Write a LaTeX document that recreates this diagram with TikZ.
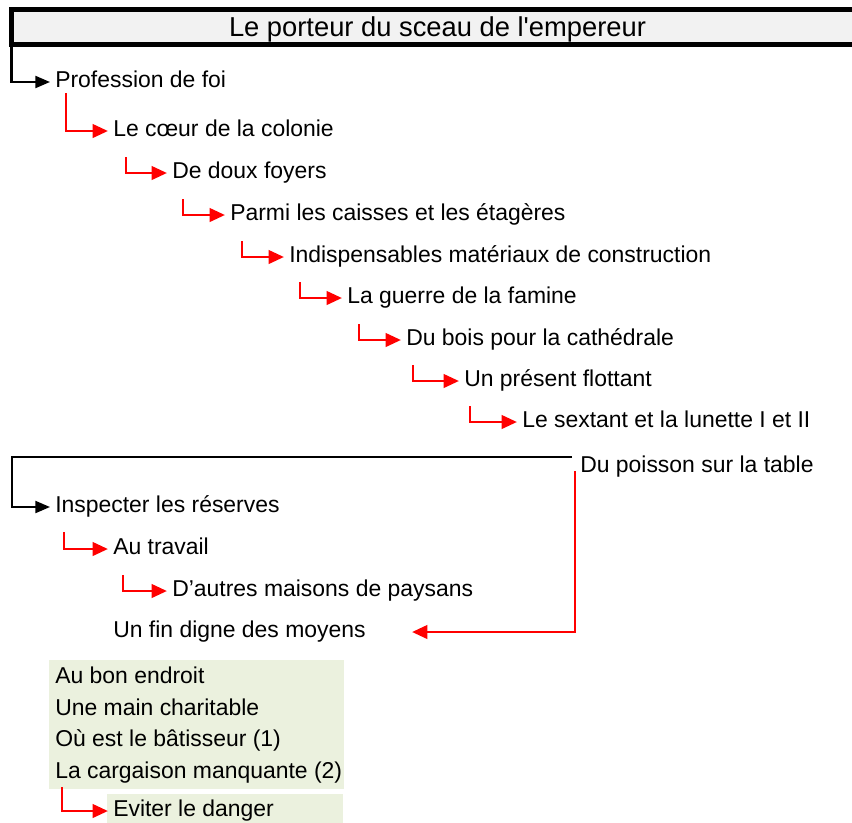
\documentclass[tikz,border=0pt]{standalone}
\usepackage{fontspec}
\setmainfont{Liberation Sans}[Ligatures=TeXOff]
\usetikzlibrary{arrows.meta}
\definecolor{titlegray}{HTML}{F2F2F2}
\definecolor{cellgreen}{HTML}{EBF1DE}
\definecolor{linkred}{HTML}{FF0000}
\begin{document}
\begin{tikzpicture}[x=0.75pt,y=-0.75pt,
  item/.style={anchor=base west, yshift=-3.75pt, inner xsep=3.75pt, inner ysep=0pt, font=\fontsize{17.2}{20}\selectfont},
  redlink/.style={draw=linkred, line width=2.2pt, -{Triangle[length=11.5pt,width=10pt]}},
  blacklink/.style={draw=black, line width=1.6pt, -{Triangle[length=11pt,width=9pt]}},
  titlebox/.style={draw, line width=3.75pt, fill=titlegray, outer sep=0pt, inner sep=0pt,
    minimum width=700pt, minimum height=26.25pt, anchor=north west,
    text height=14.6pt, text depth=0pt,
    font=\fontsize{20.5}{24}\selectfont}
]
\useasboundingbox (0,0) rectangle (852,822);
\clip (0,0) rectangle (852,822);

% green cells
\fill[cellgreen] (49,660) rectangle (344,789);
\fill[cellgreen] (107,794) rectangle (343,830);

% title (box runs past the right edge; text kept centred at x = 437.5px)
\node[titlebox] (title) at (11.5,9.5) {\hspace*{-61pt}Le porteur du sceau de l'empereur};

% first cascade
\node[item] (n1) at (50,82)  {Profession de foi};
\node[item] (n2) at (108,131) {Le cœur de la colonie};
\node[item] (n3) at (167,173) {De doux foyers};
\node[item] (n4) at (225,215) {Parmi les caisses et les étagères};
\node[item] (n5) at (284,257) {Indispensables matériaux de construction};
\node[item] (n6) at (342,298) {La guerre de la famine};
\node[item] (n7) at (401,340) {Du bois pour la cathédrale};
\node[item] (n8) at (459,381) {Un présent flottant};
\node[item] (n9) at (517,422) {Le sextant et la lunette I et II};
\node[item] (dp) at (575,467) {Du poisson sur la table};

% second cascade
\node[item] (m1) at (50,507)  {Inspecter les réserves};
\node[item] (m2) at (108,549) {Au travail};
\node[item] (m3) at (167,591) {D’autres maisons de paysans};
\node[item] (m4) at (108,632) {Un fin digne des moyens};
\coordinate (m4tip) at (412,632);

% green list
\node[item] (g1) at (50,678) {Au bon endroit};
\node[item] (g2) at (50,710) {Une main charitable};
\node[item] (g3) at (50,741) {Où est le bâtisseur (1)};
\node[item] (g4) at (50,773) {La cargaison manquante (2)};
\node[item] (e1) at (108,811) {Eviter le danger};

% black connectors
\draw[blacklink] (title.south west) |- ([yshift=3.75pt]n1.base west);
\coordinate (rail) at (12,457);
\draw[blacklink] ([xshift=-2.25pt,yshift=11.25pt]dp.base west) -- (rail) |- ([yshift=3.75pt]m1.base west);

% red connectors
\draw[redlink] ([shift={(-42,-38)},yshift=3.75pt]n2.base west) |- ([yshift=3.75pt]n2.base west);
\draw[redlink] ([shift={(-41,-16)},yshift=3.75pt]n3.base west) |- ([yshift=3.75pt]n3.base west);
\draw[redlink] ([shift={(-42,-16)},yshift=3.75pt]n4.base west) |- ([yshift=3.75pt]n4.base west);
\draw[redlink] ([shift={(-42,-16)},yshift=3.75pt]n5.base west) |- ([yshift=3.75pt]n5.base west);
\draw[redlink] ([shift={(-42,-16)},yshift=3.75pt]n6.base west) |- ([yshift=3.75pt]n6.base west);
\draw[redlink] ([shift={(-42,-16)},yshift=3.75pt]n7.base west) |- ([yshift=3.75pt]n7.base west);
\draw[redlink] ([shift={(-46,-16)},yshift=3.75pt]n8.base west) |- ([yshift=3.75pt]n8.base west);
\draw[redlink] ([shift={(-47,-16)},yshift=3.75pt]n9.base west) |- ([yshift=3.75pt]n9.base west);
\draw[redlink] ([shift={(-44,-17)},yshift=3.75pt]m2.base west) |- ([yshift=3.75pt]m2.base west);
\draw[redlink] ([shift={(-44,-16)},yshift=3.75pt]m3.base west) |- ([yshift=3.75pt]m3.base west);
\draw[redlink] ([yshift=0.75pt]dp.base west) |- (m4tip);
\draw[redlink] ([shift={(-46,-24)},yshift=3.75pt]e1.base west) |- ([yshift=3.75pt]e1.base west);
\end{tikzpicture}
\end{document}
